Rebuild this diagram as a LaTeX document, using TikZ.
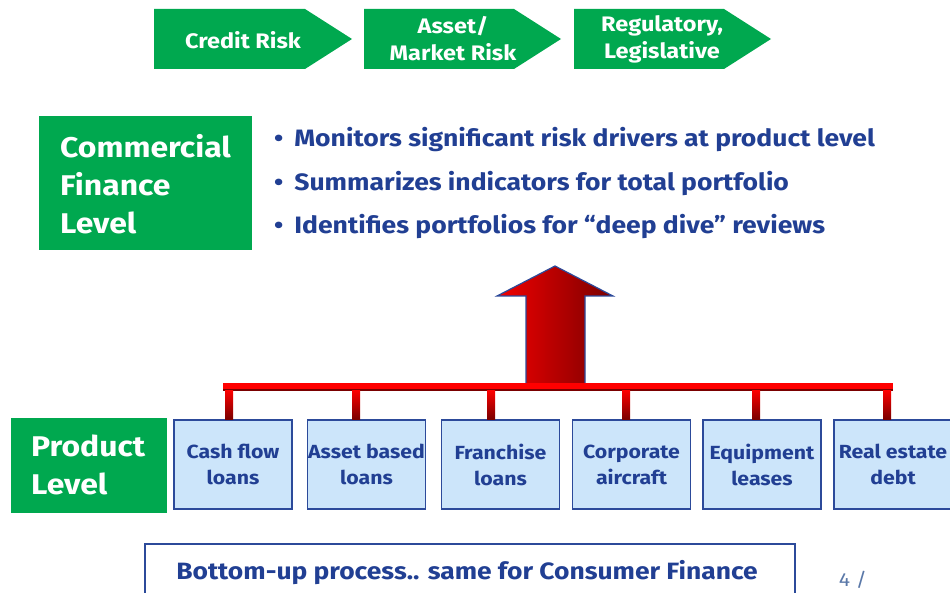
\documentclass[tikz,border=0pt]{standalone}
\usepackage{fontspec}
\setmainfont{Fira Sans}[FakeStretch=1.12]
\usetikzlibrary{calc}
\definecolor{gegreen}{HTML}{00A84F}
\definecolor{geblue}{HTML}{213F93}
\definecolor{boxfill}{HTML}{CCE5FA}
\definecolor{boxline}{HTML}{2C4A9A}
\definecolor{dred}{HTML}{7A0000}
\definecolor{pagegray}{HTML}{5A78A8}
\begin{document}
\begin{tikzpicture}[x=1pt,y=-1pt,
  chev/.style={fill=gegreen},
  chevtext/.style={text=white,font=\bfseries\fontsize{21}{27}\selectfont,align=center},
  levelbox/.style={fill=gegreen,text=white,font=\bfseries\fontsize{28.5}{38}\selectfont,align=left,anchor=north west,inner sep=0pt},
  bullet/.style={text=geblue,font=\bfseries\fontsize{23.7}{26}\selectfont,anchor=west,inner sep=0pt},
  prod/.style={draw=boxline,line width=1.6pt,fill=boxfill,text=geblue,font=\bfseries\fontsize{19}{26}\selectfont,align=center,minimum width=118pt,minimum height=89pt,inner sep=0pt},
  stub/.style={top color=red,bottom color=dred},
  bigarrow/.style={left color=red!95!black,right color=dred,draw=boxline,line width=1.2pt}
]
\useasboundingbox (0,0) rectangle (950,593);
\clip (0,0) rectangle (950,593);

% chevrons
\fill[chev] (154,9) -- (305,9) -- (352,39) -- (305,69) -- (154,69) -- cycle;
\fill[chev] (364,9) -- (514,9) -- (561,39) -- (514,69) -- (364,69) -- cycle;
\fill[chev] (574,9) -- (724,9) -- (771,39) -- (724,69) -- (574,69) -- cycle;
\node[chevtext] (c1) at (243,40) {Credit Risk};
\node[chevtext] (c2) at (453,39) {Asset/\\Market Risk};
\node[chevtext] (c3) at (662,39) {Regulatory,\\Legislative};

% commercial finance level
\fill[gegreen] (39,116) rectangle (252,250);
\node[levelbox] (cfl) at (60,134) {Commercial\\Finance\\Level};

% bullets
\node[bullet] (b1) at (274,140) {•\hspace{11pt}Monitors significant risk drivers at product level};
\node[bullet] (b2) at (274,184) {•\hspace{11pt}Summarizes indicators for total portfolio};
\node[bullet] (b3) at (274,227) {•\hspace{11pt}Identifies portfolios for “deep dive” reviews};

% big arrow
\path[bigarrow] (555,266) -- (613,296) -- (585,296) -- (585,384) -- (526,384) -- (526,296) -- (497,296) -- cycle;
\coordinate (arrowbase) at (555,384);

% bar
\fill[red] (223,383) rectangle (893,390);
\fill[dred] (223,389) rectangle (893,390.5);

% product level
\fill[gegreen] (11,418) rectangle (167,513);
\node[levelbox] (pl) at (31,435) {Product\\Level};

% product boxes
\node[prod] (p1) at (233,464.5) {Cash flow\\loans};
\node[prod] (p2) at (366.5,464.5) {Asset based\\loans};
\node[prod] (p3) at (500.5,464.5) {Franchise\\loans};
\node[prod] (p4) at (631.5,464.5) {Corporate\\aircraft};
\node[prod] (p5) at (762,464.5) {Equipment\\leases};
\node[prod] (p6) at (893,464.5) {Real estate\\debt};

% stubs
\foreach \n/\x in {p1/229,p2/356,p3/491,p4/626,p5/756,p6/887}{
  \path[stub] (\x-4,390) rectangle (\n.north -| {\x+4,0});
}

% bottom box
\draw[boxline,line width=1.6pt] (145,600) -- (145,544) -- (795,544) -- (795,600);
\node[text=geblue,font=\bfseries\fontsize{23.6}{26}\selectfont] (bottom) at (467,572.5) {Bottom-up process.. same for Consumer Finance};

\node[text=pagegray,font=\fontsize{19}{22}\selectfont] (page) at (853,580) {4 /};
\end{tikzpicture}
\end{document}
